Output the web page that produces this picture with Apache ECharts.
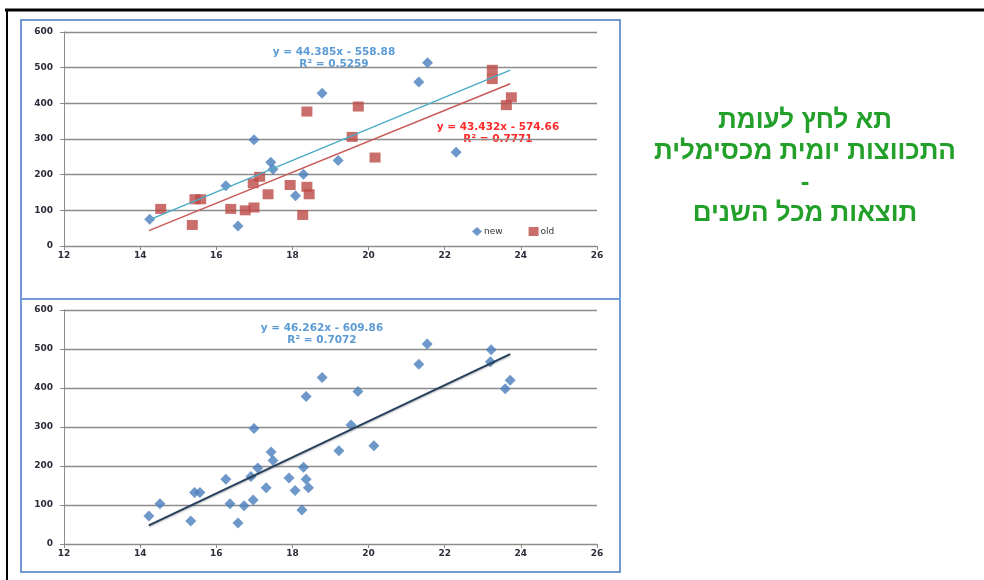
<!DOCTYPE html>
<html>
<head>
<meta charset="utf-8">
<script src="https://cdn.jsdelivr.net/npm/echarts@6.0.0/dist/echarts.min.js"></script>
<style>
  html, body { margin: 0; padding: 0; background: #fff; }
  #chart { width: 984px; height: 580px; }
</style>
</head>
<body>
<div id="chart"></div>
<script>
// top chart: "new" points (blue diamonds)
var newX = [14.25, 16.25, 16.57, 16.99, 17.43, 17.49, 18.08, 18.29, 18.78, 19.2, 21.32, 21.55, 22.3];
var newY = [75, 169, 56, 298, 235, 215, 141, 201, 428, 240, 460, 514, 263];
// top chart: "old" points (red squares)
var oldX = [14.54, 15.37, 15.44, 15.59, 16.38, 16.76, 16.99, 16.97, 17.14, 17.36, 17.94, 18.27, 18.38, 18.44, 18.38, 19.73, 19.57, 20.17, 23.25, 23.25, 23.62, 23.75];
var oldY = [104, 59, 131, 131, 104, 100, 108, 176, 194, 145, 171, 87, 166, 145, 377, 391, 306, 248, 494, 468, 395, 417];
// bottom chart: all years
var allX = [14.23, 14.52, 15.33, 15.43, 15.57, 16.25, 16.36, 16.57, 16.73, 16.97, 16.91, 16.99, 17.09, 17.31, 17.44, 17.49, 17.91, 18.07, 18.25, 18.29, 18.36, 18.42, 18.36, 18.78, 19.22, 19.54, 19.72, 20.14, 21.32, 21.54, 23.22, 23.2, 23.59, 23.72];
var allY = [72, 103, 59, 132, 132, 166, 103, 54, 98, 113, 173, 296, 195, 144, 236, 214, 169, 137, 87, 197, 166, 144, 378, 427, 239, 305, 391, 252, 461, 513, 498, 467, 398, 420];

// trend line end points
var newTrendX = [14.3, 23.72], newTrendY = [76, 493];
var oldTrendX = [14.23, 23.72], oldTrendY = [43, 455];
var allTrendX = [14.23, 23.72], allTrendY = [48, 487];

var newEq = ['y = 44.385x - 558.88', 'R² = 0.5259'];
var oldEq = ['y = 43.432x - 574.66', 'R² = 0.7771'];
var allEq = ['y = 46.262x - 609.86', 'R² = 0.7072'];

var titleLines = ['תא לחץ לעומת', 'התכווצות יומית מכסימלית', '-', 'תוצאות מכל השנים'];

function pairs(xs, ys) {
    var d = [];
    for (var i = 0; i < xs.length; i++) d.push([xs[i], ys[i]]);
    return d;
}

var myChart = echarts.init(document.getElementById('chart'));

var lblStyle = { fontSize: 9, fontWeight: 'bold', color: '#2b2b3a', fontFamily: 'DejaVu Sans' };
var gridCol = '#8c8c8c';

function xAx(gi) {
    return {
        gridIndex: gi, type: 'value', min: 12, max: 26, interval: 2,
        axisLine: { show: true, onZero: false, lineStyle: { color: gridCol, width: 1 } },
        axisTick: { show: true, length: 4, lineStyle: { color: gridCol } },
        axisLabel: Object.assign({ margin: 5 }, lblStyle),
        splitLine: { show: false }
    };
}
function yAx(gi) {
    return {
        gridIndex: gi, type: 'value', min: 0, max: 600, interval: 100,
        axisLine: { show: true, lineStyle: { color: gridCol, width: 1 } },
        axisTick: { show: true, length: 4, lineStyle: { color: gridCol } },
        axisLabel: Object.assign({ margin: 11 }, lblStyle),
        splitLine: { show: true, lineStyle: { color: gridCol, width: 1.3 } }
    };
}

function eqText(lines, cx, y, color) {
    return {
        type: 'text', x: cx, y: y,
        style: {
            text: lines.join('\n'), fill: color, font: 'bold 10.5px "DejaVu Sans"',
            textAlign: 'center', lineHeight: 12
        }
    };
}

var option = {
    backgroundColor: '#fff',
    animation: false,
    grid: [
        { left: 64, top: 32, width: 533, height: 214 },
        { left: 64, top: 310, width: 533, height: 234 }
    ],
    xAxis: [xAx(0), xAx(1)],
    yAxis: [yAx(0), yAx(1)],
    legend: {
        data: [
            { name: 'new', icon: 'diamond' },
            { name: 'old', icon: 'rect' }
        ],
        left: 467, top: 222, itemWidth: 10, itemHeight: 9, itemGap: 26,
        textStyle: { fontSize: 9, color: '#333', fontFamily: 'DejaVu Sans', padding: [0, 0, 0, -3] }
    },
    graphic: [
        { type: 'line', shape: { x1: 5, y1: 10, x2: 984, y2: 10 }, style: { stroke: '#000', lineWidth: 3 } },
        { type: 'line', shape: { x1: 7, y1: 10, x2: 7, y2: 580 }, style: { stroke: '#000', lineWidth: 2 } },
        { type: 'rect', shape: { x: 21, y: 20, width: 599, height: 279 }, style: { fill: 'none', stroke: '#6f9ad3', lineWidth: 2 } },
        { type: 'rect', shape: { x: 21, y: 299, width: 599, height: 273 }, style: { fill: 'none', stroke: '#6f9ad3', lineWidth: 2 } },
        eqText(newEq, 334, 46, '#5b9bd5'),
        eqText(oldEq, 498, 121, '#ff2a2a'),
        eqText(allEq, 322, 322, '#5b9bd5'),
        {
            type: 'text', x: 805, y: 105,
            style: {
                text: titleLines.join('\n'), fill: '#22a02a',
                font: 'bold 26px "Liberation Sans"', textAlign: 'center', lineHeight: 31
            }
        }
    ],
    series: [
        {
            name: 'new', type: 'scatter', xAxisIndex: 0, yAxisIndex: 0,
            symbol: 'diamond', symbolSize: [11, 11],
            itemStyle: { color: '#4a7ebb' },
            data: pairs(newX, newY), z: 3
        },
        {
            name: 'old', type: 'scatter', xAxisIndex: 0, yAxisIndex: 0,
            symbol: 'rect', symbolSize: [11, 10],
            itemStyle: { color: '#bd4a47' },
            data: pairs(oldX, oldY), z: 3
        },
        {
            name: 'newTrend', type: 'line', xAxisIndex: 0, yAxisIndex: 0,
            showSymbol: false, symbol: 'none',
            lineStyle: { color: '#4bacc6', width: 1.5 },
            data: pairs(newTrendX, newTrendY), z: 4
        },
        {
            name: 'oldTrend', type: 'line', xAxisIndex: 0, yAxisIndex: 0,
            showSymbol: false, symbol: 'none',
            lineStyle: { color: '#c95a58', width: 1.5 },
            data: pairs(oldTrendX, oldTrendY), z: 4
        },
        {
            name: 'all', type: 'scatter', xAxisIndex: 1, yAxisIndex: 1,
            symbol: 'diamond', symbolSize: [11, 11],
            itemStyle: { color: '#4a7ebb' },
            data: pairs(allX, allY), z: 3
        },
        {
            name: 'allTrend', type: 'line', xAxisIndex: 1, yAxisIndex: 1,
            showSymbol: false, symbol: 'none',
            lineStyle: { color: '#26405e', width: 2, shadowColor: 'rgba(0,0,0,0.3)', shadowBlur: 2, shadowOffsetY: 1 },
            data: pairs(allTrendX, allTrendY), z: 4
        }
    ]
};

myChart.setOption(option);
</script>
</body>
</html>
